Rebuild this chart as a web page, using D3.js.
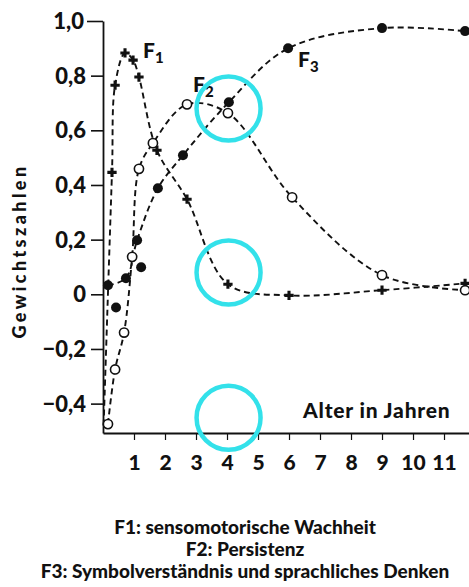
<!DOCTYPE html>
<html>
<head>
<meta charset="utf-8">
<script src="https://cdn.jsdelivr.net/npm/d3@7"></script>
<style>
	body { margin: 0; background: #fff; }
	svg { display: block; }
	text { font-family: Lato, "Open Sans", sans-serif; font-weight: 700; fill: #111; }
</style>
</head>
<body>
<svg width="469" height="587"></svg>
<script>
// age (years) and loading pairs
const f1Ages = [0.02, 0.29, 0.39, 0.71, 0.97, 1.16, 1.74, 2.71, 4.03, 6.0, 9.0, 11.68];
const f1Vals = [-0.48, 0.446, 0.765, 0.883, 0.857, 0.795, 0.527, 0.348, 0.037, -0.004, 0.015, 0.04];
const f2Ages = [0.16, 0.39, 0.68, 0.94, 1.16, 1.61, 2.71, 4.03, 6.1, 9.0, 11.68];
const f2Vals = [-0.475, -0.275, -0.14, 0.137, 0.459, 0.553, 0.695, 0.663, 0.355, 0.07, 0.015];
const f3Ages = [0.16, 0.74, 1.1, 1.77, 2.58, 4.06, 5.97, 9.0, 11.68];
const f3Vals = [0.033, 0.059, 0.198, 0.388, 0.509, 0.703, 0.9, 0.974, 0.963];
// filled points without a connecting line
const looseAges = [0.42, 1.23];
const looseVals = [-0.048, 0.099];
// highlight rings around age 4
const ringAges = [4.05, 4.05, 4.05];
const ringVals = [0.68, 0.08, -0.452];

const xTicks = [1, 2, 3, 4, 5, 6, 7, 8, 9, 10, 11];
const yTicks = [-0.4, -0.2, 0, 0.2, 0.4, 0.6, 0.8, 1.0];
const legend = [
	'F1: sensomotorische Wachheit',
	'F2: Persistenz',
	'F3: Symbolverständnis und sprachliches Denken'
];

const svg = d3.select('svg');

const x = d3.scaleLinear().domain([0, 11.806]).range([103, 469]);
const y = d3.scaleLinear().domain([-0.5075, 1.0]).range([433, 21]);

const zip = (a, b) => a.map((v, i) => [v, b[i]]);
const f1 = zip(f1Ages, f1Vals);
const f2 = zip(f2Ages, f2Vals);
const f3 = zip(f3Ages, f3Vals);

// Axes
const yAxis = d3.axisLeft(y)
	.tickValues(yTicks)
	.tickSize(12)
	.tickSizeOuter(0)
	.tickPadding(5)
	.tickFormat(d => d === 0 ? '0' : d3.format('.1f')(d).replace('.', ',').replace('-', '−'));
const gy = svg.append('g')
	.attr('transform', `translate(${x(0)},0)`)
	.call(yAxis);
gy.select('.domain').attr('stroke', '#111').attr('stroke-width', 1.8);
gy.selectAll('.tick line').attr('stroke', '#111').attr('stroke-width', 1.6)
	.filter(d => d === 1).attr('x2', -16);
gy.selectAll('.tick text')
	.style('font-size', '22px')
	.style('font-weight', 900)
	.attr('dy', '0.34em');
gy.selectAll('.tick text').filter(d => d === 1).attr('x', -19);

const xAxis = d3.axisBottom(x)
	.tickValues(xTicks)
	.tickSize(7)
	.tickSizeOuter(0)
	.tickPadding(15)
	.tickFormat(d3.format('d'));
const gx = svg.append('g')
	.attr('transform', `translate(0,${y.range()[0]})`)
	.call(xAxis);
gx.select('.domain').attr('stroke', '#111').attr('stroke-width', 2);
gx.selectAll('.tick line').attr('stroke', '#111').attr('stroke-width', 1.2);
gx.selectAll('.tick text').style('font-size', '21px').style('font-weight', 900);

svg.append('text')
	.attr('x', 303)
	.attr('y', 418)
	.style('font-size', '21px')
	.style('font-weight', 900)
	.style('letter-spacing', '0.8px')
	.text('Alter in Jahren');

svg.append('text')
	.attr('transform', 'translate(26,251) rotate(-90)')
	.attr('text-anchor', 'middle')
	.style('font-size', '18px')
	.style('font-weight', 900)
	.style('letter-spacing', '3.4px')
	.text('Gewichtszahlen');

// Curves
const line = d3.line()
	.x(d => x(d[0]))
	.y(d => y(d[1]))
	.curve(d3.curveCatmullRom.alpha(0.5));

svg.append('g')
	.attr('id', 'curves')
	.selectAll('path')
	.data([f1, f2, f3])
	.enter()
	.append('path')
	.attr('d', line)
	.attr('fill', 'none')
	.attr('stroke', '#111')
	.attr('stroke-width', 1.9)
	.attr('stroke-dasharray', '6,4');

// Markers
svg.append('g')
	.attr('id', 'f1')
	.selectAll('path')
	.data(f1.slice(1))
	.enter()
	.append('path')
	.attr('transform', d => `translate(${x(d[0])},${y(d[1])})`)
	.attr('d', d3.symbol(d3.symbolCross, 48))
	.attr('fill', '#111');

svg.append('g')
	.attr('id', 'f3')
	.selectAll('circle')
	.data(f3.concat(zip(looseAges, looseVals)))
	.enter()
	.append('circle')
	.attr('cx', d => x(d[0]))
	.attr('cy', d => y(d[1]))
	.attr('r', 5)
	.attr('fill', '#111');

svg.append('g')
	.attr('id', 'f2')
	.selectAll('circle')
	.data(f2)
	.enter()
	.append('circle')
	.attr('cx', d => x(d[0]))
	.attr('cy', d => y(d[1]))
	.attr('r', 4.6)
	.attr('fill', '#fff')
	.attr('stroke', '#111')
	.attr('stroke-width', 1.6);

// Curve labels
const labels = [
	{ f: 'F', sub: '1', x: 143, y: 58 },
	{ f: 'F', sub: '2', x: 193, y: 92 },
	{ f: 'F', sub: '3', x: 298, y: 67 }
];
const lab = svg.append('g').attr('id', 'labels')
	.selectAll('text')
	.data(labels)
	.enter()
	.append('text')
	.attr('x', d => d.x)
	.attr('y', d => d.y)
	.style('font-size', '21px')
	.style('font-weight', 900);
lab.append('tspan').text(d => d.f);
lab.append('tspan')
	.attr('dy', 5)
	.style('font-size', '15px')
	.text(d => d.sub);

// Legend
svg.append('g')
	.attr('id', 'legend')
	.selectAll('text')
	.data(legend)
	.enter()
	.append('text')
	.attr('x', 245)
	.attr('y', (d, i) => 534 + i * 22)
	.attr('text-anchor', 'middle')
	.style('font-size', '19px')
	.style('font-weight', 900)
	.text(d => d);

// Highlight rings
svg.append('g')
	.attr('id', 'rings')
	.selectAll('circle')
	.data(zip(ringAges, ringVals))
	.enter()
	.append('circle')
	.attr('cx', d => x(d[0]))
	.attr('cy', d => y(d[1]))
	.attr('r', 32)
	.attr('fill', 'none')
	.attr('stroke', '#33e1ea')
	.attr('stroke-width', 4.5);
</script>
</body>
</html>
